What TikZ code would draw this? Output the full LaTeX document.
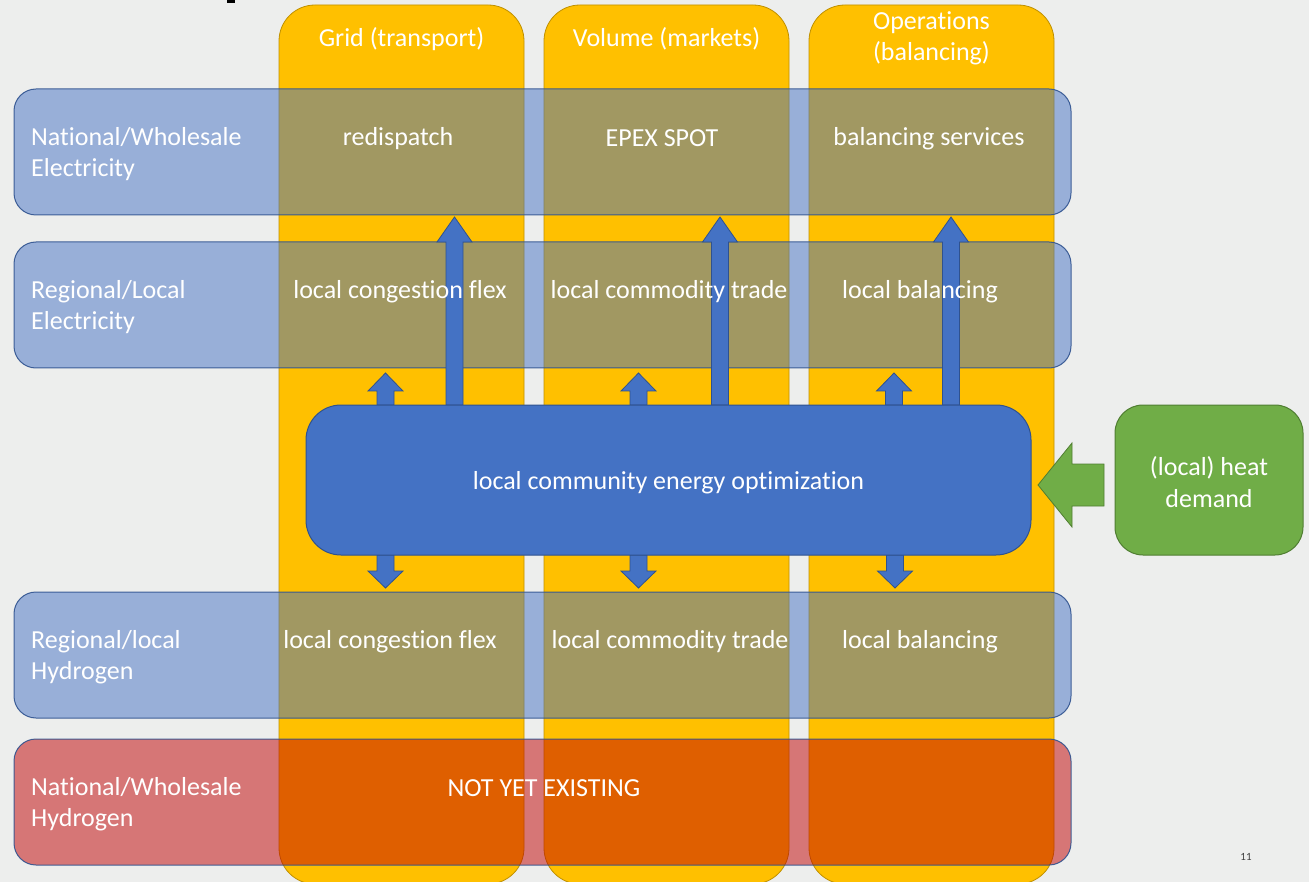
\documentclass[tikz,border=0pt]{standalone}
\usepackage{fontspec}
\setmainfont{Carlito}[Ligatures={NoCommon}]
\definecolor{bgcol}{HTML}{EDEEED}
\definecolor{colyellow}{HTML}{FFC000}
\definecolor{colborder}{HTML}{BF9000}
\definecolor{rowblue}{HTML}{4472C4}
\definecolor{rowborder}{HTML}{2F528F}
\definecolor{rowred}{HTML}{C00000}
\definecolor{heatgreen}{HTML}{70AD47}
\definecolor{heatborder}{HTML}{507E32}
\newcommand\blockarr[4]{% xc, y start, y head base, y tip
  \filldraw[barrow] ({#1-8.5},#2) -- ({#1-8.5},#3) -- ({#1-17.5},#3) -- (#1,#4)
    -- ({#1+17.5},#3) -- ({#1+8.5},#3) -- ({#1+8.5},#2) -- cycle;}
\begin{document}
\begin{tikzpicture}[x=1pt,y=-1pt,
  col/.style={draw=colborder, fill=colyellow, line width=0.8pt, rounded corners=36pt,
    inner sep=0pt, minimum width=245pt, minimum height=879pt},
  rowbox/.style={draw=rowborder, fill=rowblue, fill opacity=0.5, draw opacity=0.9,
    line width=1pt, rounded corners=22pt, inner sep=0pt, minimum width=1057pt, minimum height=126pt},
  redrow/.style={rowbox, fill=rowred},
  txt/.style={text=white, font=\fontsize{26}{31.5}\selectfont, inner sep=0pt, align=center},
  ltxt/.style={txt, align=left, anchor=west},
  barrow/.style={fill=rowblue, draw=rowborder, line width=0.8pt},
  optbox/.style={fill=rowblue, draw=rowborder, line width=1pt, rounded corners=35pt,
    inner sep=0pt, minimum width=725pt, minimum height=150pt},
  heatbox/.style={fill=heatgreen, draw=heatborder, line width=1pt, rounded corners=28pt,
    inner sep=0pt, minimum width=188pt, minimum height=150pt},
  heatarrow/.style={fill=heatgreen, draw=heatborder, line width=0.8pt}
]
\useasboundingbox[fill=bgcol] (0,0) rectangle (1309,882);
\fill (227,0) rectangle (235,3);
% columns
\node[col] (c1) at (401.5,444.5) {};
\node[col] (c2) at (666.5,444.5) {};
\node[col] (c3) at (931.5,444.5) {};
% rows
\node[rowbox] (r1) at (542.5,152) {};
\node[rowbox] (r2) at (542.5,305) {};
\node[rowbox] (r3) at (542.5,655) {};
\node[redrow] (r4) at (542.5,802) {};
% arrows
\blockarr{454.5}{405}{242}{217}
\blockarr{720}{405}{242}{217}
\blockarr{951}{405}{242}{217}
\blockarr{385.5}{405}{391}{373}
\blockarr{638.5}{405}{391}{373}
\blockarr{894}{405}{391}{373}
\blockarr{385.5}{555}{571}{588}
\blockarr{638.5}{555}{571}{588}
\blockarr{895}{555}{571}{588}
% central box
\node[optbox] (opt) at (668.5,480) {};
\node[heatbox] (heat) at (1209,480) {};
\filldraw[heatarrow] (1038,485) -- (1072,443) -- (1072,464) -- (1104,464) -- (1104,506)
  -- (1072,506) -- (1072,527) -- cycle;
% texts
\node[txt] (t1) at (401.5,39) {Grid (transport)};
\node[txt] (t2) at (666.5,39) {Volume (markets)};
\node[txt] (t3) at (931.5,38.5) {Operations\\(balancing)};
\node[ltxt] (l1) at (31,154) {National/Wholesale\\Electricity};
\node[ltxt] (l2) at (31,307) {Regional/Local\\Electricity};
\node[ltxt] (l3) at (31,657) {Regional/local\\Hydrogen};
\node[ltxt] (l4) at (31,804) {National/Wholesale\\Hydrogen};
\node[txt] (a1) at (398,139) {redispatch};
\node[txt] (a2) at (662,138) {EPEX SPOT};
\node[txt] (a3) at (929,139) {balancing services};
\node[txt] (b1) at (400,292) {local congestion flex};
\node[txt] (b2) at (669,292) {local commodity trade};
\node[txt] (b3) at (920,292) {local balancing};
\node[txt] (d1) at (390,642) {local congestion flex};
\node[txt] (d2) at (670,642) {local commodity trade};
\node[txt] (d3) at (920,642) {local balancing};
\node[txt] (e1) at (544,788) {NOT YET EXISTING};
\node[txt] (optt) at (668.5,483) {local community energy optimization};
\node[txt] (heatt) at (1209,482) {(local) heat\\demand};
\node[font=\fontsize{11}{12}\selectfont, text=black!75, inner sep=0pt] (pg) at (1246,857) {11};
\end{tikzpicture}
\end{document}
